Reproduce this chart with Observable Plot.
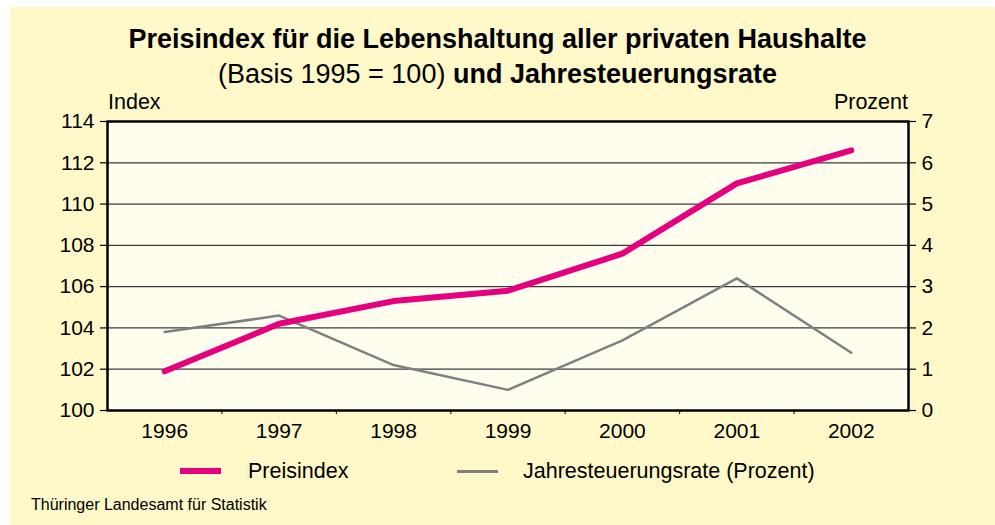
<!DOCTYPE html>
<html>
<head>
<meta charset="utf-8">
<script src="https://cdn.jsdelivr.net/npm/d3@7"></script>
<script src="https://cdn.jsdelivr.net/npm/@observablehq/plot@0.6"></script>
<style>
  html, body { margin: 0; padding: 0; background: #ffffff; }
  #wrap { position: relative; width: 995px; height: 525px; overflow: hidden; font-family: "Liberation Sans", Arial, sans-serif; color: #000; }
  #bg { position: absolute; left: 10px; top: 7px; right: 0; bottom: 0; background: #fff9c9; }
  .t { position: absolute; white-space: nowrap; line-height: 1; }
  #chart { position: absolute; left: 0; top: 0; }
  .sw { position: absolute; }
</style>
</head>
<body>
<div id="wrap">
  <div id="bg"></div>
  <div id="chart"></div>
  <div class="t" style="left:0;width:995px;text-align:center;top:26px;font-size:27px;font-weight:bold;">Preisindex für die Lebenshaltung aller privaten Haushalte</div>
  <div class="t" style="left:0;width:995px;text-align:center;top:61px;font-size:27px;">(Basis 1995 = 100) <b>und Jahresteuerungsrate</b></div>
  <div class="t" style="left:108px;top:92px;font-size:21.5px;">Index</div>
  <div class="t" style="right:87px;top:92px;font-size:21.5px;text-align:right;">Prozent</div>
  <div class="sw" style="left:180px;top:468px;width:41px;height:6px;background:#e6007e;"></div>
  <div class="t" style="left:248px;top:460.5px;font-size:21.5px;">Preisindex</div>
  <div class="sw" style="left:457px;top:469.5px;width:41px;height:3px;background:#808080;"></div>
  <div class="t" style="left:523px;top:460.5px;font-size:21.5px;">Jahresteuerungsrate (Prozent)</div>
  <div class="t" style="left:31px;top:496.5px;font-size:16px;">Thüringer Landesamt für Statistik</div>
</div>
<script>
const years = [1996, 1997, 1998, 1999, 2000, 2001, 2002];
const preisindex = [101.9, 104.2, 105.3, 105.8, 107.6, 111.0, 112.6];
const teuerung = [1.9, 2.3, 1.1, 0.5, 1.7, 3.2, 1.4];
const indexTicks = [100, 102, 104, 106, 108, 110, 112, 114];
const prozentTicks = [0, 1, 2, 3, 4, 5, 6, 7];
const gridTicks = [102, 104, 106, 108, 110, 112];

// Prozent shares the index axis: 0 % -> 100, 7 % -> 114
const toIndex = p => 100 + 2 * p;

const idxData = years.map((y, i) => ({year: y, value: preisindex[i]}));
const teuData = years.map((y, i) => ({year: y, value: toIndex(teuerung[i])}));
const boundaries = years.slice(0, -1).map(y => y + 0.5);

const chart = Plot.plot({
  width: 995,
  height: 525,
  marginLeft: 107,
  marginRight: 87,
  marginTop: 121,
  marginBottom: 115,
  style: {background: "transparent", fontFamily: "'Liberation Sans', Arial, sans-serif", fontSize: "21px", color: "#000"},
  x: {domain: [1995.5, 2002.5]},
  y: {domain: [100, 114]},
  marks: [
    Plot.frame({fill: "#fffdee", stroke: null}),
    Plot.ruleY(gridTicks, {stroke: "#3a3a3a", strokeWidth: 1.2}),
    Plot.axisY({ticks: indexTicks, tickSize: 7, tickPadding: 6, tickFormat: d => String(d), label: null, fontSize: 21, stroke: "#000", strokeWidth: 1.2}),
    Plot.axisY({anchor: "right", ticks: prozentTicks.map(toIndex), tickSize: 7, tickPadding: 6, tickFormat: d => String((d - 100) / 2), label: null, fontSize: 21, strokeWidth: 1.2}),
    Plot.axisX({ticks: years, tickSize: 0, tickPadding: 13, tickFormat: d => String(d), label: null, fontSize: 21}),
    Plot.axisX({ticks: boundaries, tickSize: 4, tickFormat: () => "", label: null, strokeWidth: 1}),
    Plot.line(teuData, {x: "year", y: "value", stroke: "#808080", strokeWidth: 2.5}),
    Plot.line(idxData, {x: "year", y: "value", stroke: "#e6007e", strokeWidth: 6}),
    Plot.frame({stroke: "#000", strokeWidth: 2.5})
  ]
});
document.getElementById("chart").appendChild(chart);
</script>
</body>
</html>
